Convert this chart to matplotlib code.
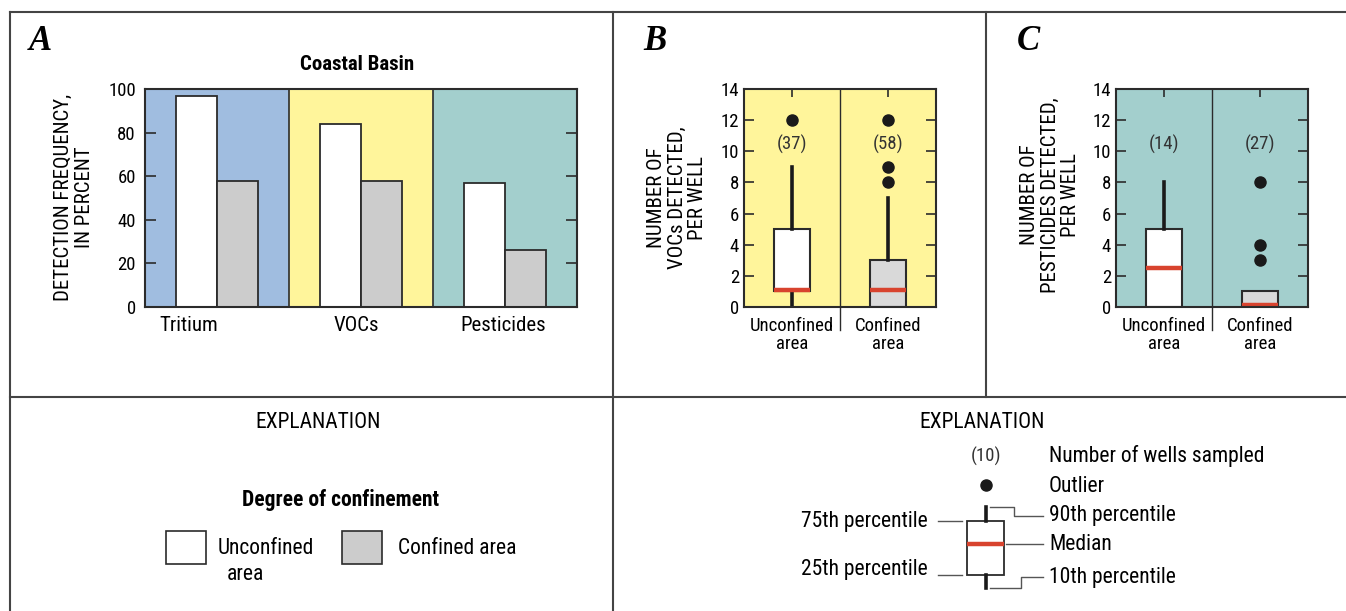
import matplotlib
matplotlib.use("Agg")
import matplotlib.pyplot as plt
from matplotlib.patches import Rectangle
from matplotlib import font_manager

# pick a condensed sans if one is installed
installed = [(f.name, f.stretch) for f in font_manager.fontManager.ttflist]
FONT = 'Liberation Sans'
STRETCH = 'normal'
for name, stretch in installed:
    if name in ('Liberation Sans Narrow', 'Roboto Condensed', 'Open Sans Condensed'):
        FONT, STRETCH = name, 'normal'
        break
else:
    for name, stretch in installed:
        if name == 'DejaVu Sans' and 'condensed' in str(stretch):
            FONT, STRETCH = 'DejaVu Sans', 'condensed'
            break
plt.rcParams['font.family'] = [FONT, 'DejaVu Sans']
plt.rcParams['font.stretch'] = STRETCH

W, H = 1346, 611

# Panel A: detection frequency, in percent
categories = ['Tritium', 'VOCs', 'Pesticides']
unconfined_pct = [97, 84, 57]
confined_pct = [58, 58, 26]
category_bg = ['#a0bde0', '#fff59b', '#a3cfcd']

# Panel B: VOCs detected per well (box stats)
voc_n = [37, 58]
voc_q1 = [1, 0]
voc_med = [1.1, 1.1]
voc_q3 = [5, 3]
voc_lo = [0, 0]
voc_hi = [9, 7]
voc_out = [[12], [8, 9, 12]]

# Panel C: pesticides detected per well (box stats)
pest_n = [14, 27]
pest_q1 = [0, 0]
pest_med = [2.5, 0.15]
pest_q3 = [5, 1]
pest_lo = [0, 0]
pest_hi = [8, 1]
pest_out = [[], [3, 4, 8]]

area_labels = ['Unconfined\narea', 'Confined\narea']

EDGE = '#2b2b2b'
RED = '#d8432e'
GREY_BAR = '#cccccc'
GREY_BOX = '#d9d9d9'
FS_TICK = 13.5   # tick labels, box-panel labels
FS = 15          # axis titles, panel A labels
FS_EX = 15.5     # explanation text


def pix_axes(fig, x0, y0, x1, y1):
    return fig.add_axes([x0 / W, 1 - y1 / H, (x1 - x0) / W, (y1 - y0) / H])


fig = plt.figure(figsize=(W / 100, H / 100), dpi=100)

# overlay in pixel coordinates for frame and explanations
ov = fig.add_axes([0, 0, 1, 1])
ov.set_xlim(0, W)
ov.set_ylim(H, 0)
ov.axis('off')
ov.set_zorder(-1)

frame = dict(color='#444444', lw=1.5)
ov.plot([10, W], [12, 12], **frame)
ov.plot([10, 10], [12, H], **frame)
ov.plot([10, W], [397, 397], **frame)
ov.plot([613, 613], [12, H], **frame)
ov.plot([985.5, 985.5], [12, 397], **frame)

# panel letters
for lab, x in zip(['A', 'B', 'C'], [40, 655, 1028]):
    ov.text(x, 41, lab, ha='center', va='center', fontsize=25,
            fontweight='bold', fontstyle='italic', family='Liberation Serif')

# ---- Panel A ----
axA = pix_axes(fig, 145, 89, 577, 307)
xs = range(len(categories))
for i, c in zip(xs, category_bg):
    axA.axvspan(i, i + 1, color=c, zorder=0)
for i in (1, 2):
    axA.axvline(i, color=EDGE, lw=1.2, zorder=1)
bw = 0.285
axA.bar([i + 0.5 - bw / 2 for i in xs], unconfined_pct, width=bw,
        color='white', edgecolor=EDGE, lw=1.3, zorder=2)
axA.bar([i + 0.5 + bw / 2 for i in xs], confined_pct, width=bw,
        color=GREY_BAR, edgecolor=EDGE, lw=1.3, zorder=2)
axA.set_xlim(0, 3)
axA.set_ylim(0, 100)
axA.set_yticks(range(0, 101, 20))
axA.tick_params(axis='y', left=True, right=True, direction='in', length=8,
                width=1.2, labelsize=FS_TICK, pad=6.5, color=EDGE)
axA.set_xticks([])
for s in axA.spines.values():
    s.set_color(EDGE)
    s.set_linewidth(1.5)
for lab, xp in zip(categories, [0.306, 1.47, 2.49]):
    axA.text(xp, -4, lab, ha='center', va='top', fontsize=FS, clip_on=False)
ov.text(357, 65, 'Coastal Basin', ha='center', va='center', fontsize=FS,
        fontweight='bold')
ov.text(74, 197, 'DETECTION FREQUENCY,\nIN PERCENT', rotation=90,
        ha='center', va='center', fontsize=FS, multialignment='center',
        linespacing=1.1)


def box_panel(ax, bg, n, q1, med, q3, lo, hi, out):
    ax.set_facecolor(bg)
    stats = []
    for k in range(2):
        stats.append(dict(med=med[k], q1=q1[k], q3=q3[k], whislo=lo[k],
                          whishi=hi[k], fliers=out[k]))
    bp = ax.bxp(stats, positions=[0.5, 1.5], widths=0.385, patch_artist=True,
                showcaps=False,
                boxprops=dict(edgecolor=EDGE, lw=1.5),
                whiskerprops=dict(color='#1a1a1a', lw=2.6),
                medianprops=dict(color=RED, lw=3.2, solid_capstyle='butt'),
                flierprops=dict(marker='o', markerfacecolor='#1a1a1a',
                                markeredgecolor='#1a1a1a', markersize=8))
    bp['boxes'][0].set_facecolor('white')
    bp['boxes'][1].set_facecolor(GREY_BOX)
    for k in range(2):
        ax.text(k + 0.5, 10.45, '(%d)' % n[k], ha='center', va='center',
                fontsize=FS_TICK, color='#333333')
    ax.plot([1, 1], [-1.5, 14], color=EDGE, lw=1, clip_on=False)
    ax.set_xlim(0, 2)
    ax.set_ylim(0, 14)
    ax.set_yticks(range(0, 15, 2))
    ax.set_xticks([0.5, 1.5])
    ax.set_xticklabels(area_labels, fontsize=FS_TICK, linespacing=1.0)
    ax.tick_params(axis='y', left=True, right=True, direction='in', length=7,
                   width=1.2, labelsize=FS_TICK, pad=3.5, color=EDGE)
    ax.tick_params(axis='x', bottom=False, top=True, direction='in',
                   length=6, width=1.2, pad=7, color=EDGE)
    for s in ax.spines.values():
        s.set_color(EDGE)
        s.set_linewidth(1.5)


axB = pix_axes(fig, 744, 89, 936, 307)
box_panel(axB, '#fff59b', voc_n, voc_q1, voc_med, voc_q3, voc_lo, voc_hi,
          voc_out)
ov.text(677, 198, 'NUMBER OF\nVOCs DETECTED,\nPER WELL', rotation=90,
        ha='center', va='center', fontsize=FS, multialignment='center',
        linespacing=1.1)

axC = pix_axes(fig, 1116, 89, 1308, 307)
box_panel(axC, '#a3cfcd', pest_n, pest_q1, pest_med, pest_q3, pest_lo,
          pest_hi, pest_out)
ov.text(1050, 195, 'NUMBER OF\nPESTICIDES DETECTED,\nPER WELL', rotation=90,
        ha='center', va='center', fontsize=FS, multialignment='center',
        linespacing=1.1)

# ---- Explanation, left ----
ov.text(318, 422, 'EXPLANATION', ha='center', va='center', fontsize=FS_EX)
ov.text(341, 500, 'Degree of confinement', ha='center', va='center',
        fontsize=FS_EX, fontweight='bold')
ov.add_patch(Rectangle((166, 531), 40, 33, facecolor='white',
                       edgecolor=EDGE, lw=1.2))
ov.add_patch(Rectangle((342, 531), 40, 33, facecolor=GREY_BAR,
                       edgecolor=EDGE, lw=1.2))
ov.text(218, 549, 'Unconfined', ha='left', va='center', fontsize=FS_EX)
ov.text(227, 575, 'area', ha='left', va='center', fontsize=FS_EX)
ov.text(398, 549, 'Confined area', ha='left', va='center', fontsize=FS_EX)

# ---- Explanation, right ----
ov.text(982, 422, 'EXPLANATION', ha='center', va='center', fontsize=FS_EX)
ov.text(986, 456, '(10)', ha='center', va='center', fontsize=FS_TICK,
        color='#333333')
ov.text(1049, 456, 'Number of wells sampled', ha='left', va='center',
        fontsize=FS_EX)
ov.plot([986], [485], 'o', color='#1a1a1a', markersize=8)
ov.text(1049, 486, 'Outlier', ha='left', va='center', fontsize=FS_EX)
ov.add_patch(Rectangle((967, 521), 37, 54, facecolor='white',
                       edgecolor=EDGE, lw=1.3))
ov.plot([985.5, 985.5], [507, 521], color='#1a1a1a', lw=2.6)
ov.plot([985.5, 985.5], [575, 588], color='#1a1a1a', lw=2.6)
ov.plot([967, 1004], [544, 544], color=RED, lw=3.2, solid_capstyle='butt')
lead = dict(color='#555555', lw=1)
ov.plot([938, 962], [521, 521], **lead)
ov.plot([938, 962], [575, 575], **lead)
ov.plot([990, 1014, 1014, 1043], [507, 507, 516, 516], **lead)
ov.plot([1006, 1043], [544, 544], **lead)
ov.plot([990, 1021, 1021, 1043], [588, 588, 577, 577], **lead)
ov.text(928, 521, '75th percentile', ha='right', va='center', fontsize=FS_EX)
ov.text(928, 570, '25th percentile', ha='right', va='center', fontsize=FS_EX)
ov.text(1049, 515, '90th percentile', ha='left', va='center', fontsize=FS_EX)
ov.text(1049, 545, 'Median', ha='left', va='center', fontsize=FS_EX)
ov.text(1049, 577, '10th percentile', ha='left', va='center', fontsize=FS_EX)

fig.savefig('out.png', dpi=100)
